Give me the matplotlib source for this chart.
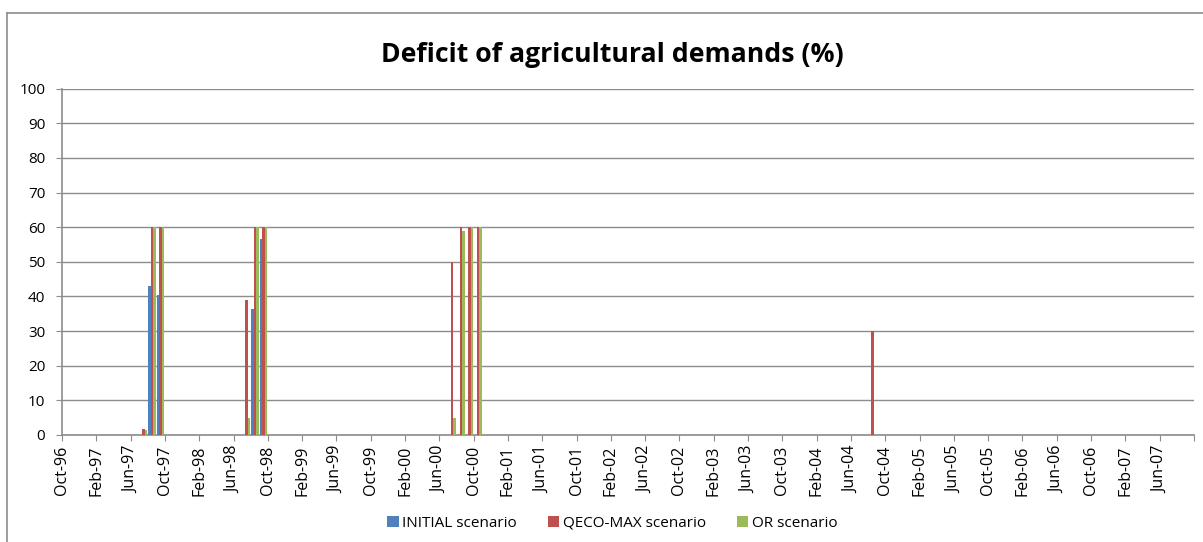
import matplotlib
matplotlib.use("Agg")
import matplotlib.pyplot as plt
import numpy as np
import pandas as pd
from matplotlib.lines import Line2D

# --- Datos ---
months = pd.date_range("1996-10-01", periods=132, freq="MS").strftime("%b-%y").tolist()
series_names = ["INITIAL scenario", "QECO-MAX scenario", "OR scenario"]
colors = ["#4F81BD", "#C0504D", "#9BBB59"]

# valores distintos de cero (resto de meses = 0)
initial_nonzero = {"Aug-97": 43, "Sep-97": 40.5, "Aug-98": 36.5, "Sep-98": 56.5}
qeco_nonzero = {"Jul-97": 1.7, "Aug-97": 60, "Sep-97": 60,
                "Jul-98": 39, "Aug-98": 60, "Sep-98": 60,
                "Jul-00": 50, "Aug-00": 60, "Sep-00": 60, "Oct-00": 60,
                "Aug-04": 30}
or_nonzero = {"Jul-97": 1.5, "Aug-97": 60, "Sep-97": 60,
              "Jul-98": 5, "Aug-98": 60, "Sep-98": 60,
              "Jul-00": 5, "Aug-00": 59, "Sep-00": 60, "Oct-00": 60}

def to_series(nonzero):
    return [nonzero.get(m, 0) for m in months]

initial = to_series(initial_nonzero)
qeco = to_series(qeco_nonzero)
orsc = to_series(or_nonzero)

plt.rcParams["font.family"] = ["Open Sans", "DejaVu Sans"]

fig = plt.figure(figsize=(12.03, 5.42), dpi=100)
ax = fig.add_axes([62 / 1203, 1 - 435 / 542, (1194 - 62) / 1203, (435 - 88.7) / 542])

x = np.arange(len(months)) + 0.5
w = 0.29
for i, (vals, name, c) in enumerate(zip([initial, qeco, orsc], series_names, colors)):
    vals = np.array(vals, dtype=float)
    mask = vals > 0
    ax.bar(x[mask] + (i - 1) * w, vals[mask], width=w, color=c, label=name,
           edgecolor="none", zorder=3)

ax.set_xlim(0, len(months))
ax.set_ylim(0, 100)
ax.set_yticks(range(0, 101, 10))
ax.yaxis.grid(True, color="#8c8c8c", linewidth=1.0, zorder=0)

tick_pos = list(range(0, len(months), 4))
ax.set_xticks(tick_pos + [len(months)])
ax.set_xticklabels([months[p] for p in tick_pos] + [""], rotation=90)

for s in ["top", "right"]:
    ax.spines[s].set_visible(False)
for s in ["left", "bottom"]:
    ax.spines[s].set_color("#8c8c8c")
    ax.spines[s].set_linewidth(1.2)
ax.tick_params(axis="both", colors="#8c8c8c", labelcolor="black", labelsize=11.5, length=4)
ax.tick_params(axis="y", pad=8, labelsize=11)

fig.text(0.509, 1 - 55 / 542, "Deficit of agricultural demands (%)", ha="center", va="center",
         fontsize=19.2, fontweight="bold")

leg = fig.legend(loc="center", bbox_to_anchor=(0.509, 0.035), ncol=3, frameon=False,
                 fontsize=11, handlelength=0.75, handleheight=0.75, handletextpad=0.25,
                 columnspacing=2.0)

# marco exterior del gráfico
fig.add_artist(Line2D([7 / 1203, 7 / 1203], [0, 1 - 13 / 542], color="#8c8c8c", linewidth=1.2))
fig.add_artist(Line2D([7 / 1203, 1], [1 - 13 / 542, 1 - 13 / 542], color="#8c8c8c", linewidth=1.2))

fig.savefig("out.png", dpi=100)
